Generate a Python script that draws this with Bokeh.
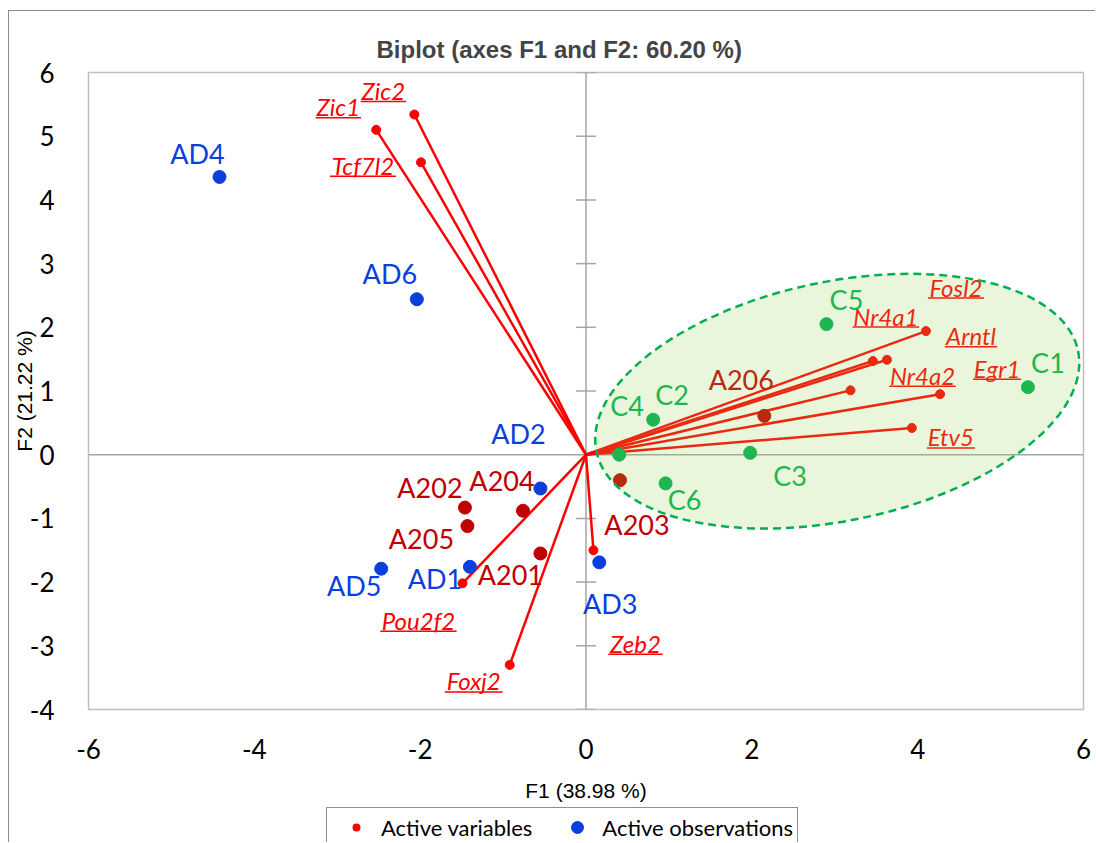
from bokeh.plotting import figure
from bokeh.layouts import column
from bokeh.models import Range1d, FixedTicker, Span, Legend, LegendItem
from bokeh.core.properties import value
from bokeh.embed import file_html
from bokeh.resources import INLINE

# ---------------- data ----------------
var_names = ["Zic2", "Zic1", "Tcf7l2", "Fosl2", "Nr4a1", "Arntl",
             "Nr4a2", "Egr1", "Etv5", "Pou2f2", "Foxj2", "Zeb2"]
var_f1 = [-2.07, -2.53, -1.99, 4.10, 3.46, 3.63, 3.19, 4.27, 3.93, -1.49, -0.92, 0.09]
var_f2 = [5.34, 5.10, 4.59, 1.94, 1.47, 1.49, 1.01, 0.95, 0.42, -2.02, -3.30, -1.50]

ad_names = ["AD1", "AD2", "AD3", "AD4", "AD5", "AD6"]
ad_f1 = [-1.40, -0.55, 0.16, -4.42, -2.47, -2.04]
ad_f2 = [-1.76, -0.53, -1.69, 4.36, -1.79, 2.44]

a_names = ["A201", "A202", "A203", "A204", "A205", "A206"]
a_f1 = [-0.55, -1.46, 0.41, -0.76, -1.43, 2.15]
a_f2 = [-1.55, -0.83, -0.40, -0.88, -1.12, 0.61]

c_names = ["C1", "C2", "C3", "C4", "C5", "C6"]
c_f1 = [5.33, 0.81, 1.98, 0.40, 2.90, 0.96]
c_f2 = [1.06, 0.55, 0.03, 0.00, 2.05, -0.45]

x_ticks = [-6, -4, -2, 0, 2, 4, 6]
x_tick_labels = ["-6", "-4", "-2", "0", "2", "4", "6"]
y_ticks = [-4, -3, -2, -1, 0, 1, 2, 3, 4, 5, 6]
y_tick_labels = ["-4", "-3", "-2", "-1", "0", "1", "2", "3", "4", "5", "6"]

# ---------------- label placement (screen px offsets, y down) ----------------
var_off = [(-31, -24), (-38, -23), (-58, 3), (30, -44), (13, -45), (84, -24),
           (72, -15), (57, -26), (39, 9), (-44, 37), (-36, 16), (42, 93)]
ad_off = [(-35, 12), (-22, -55), (11, 41), (-22, -23), (-27, 17), (-27, -26)]
a_off = [(-30, 21), (-35, -20), (17, 44), (-21, -30), (-46, 12), (-23, -36)]
c_off = [(20, -25), (19, -25), (40, 23), (8, -49), (20, -25), (19, 16)]

# ---------------- layout ----------------
W, H = 1095, 804
BL, BR, BT, BB = 88, 12, 72, 95
FW, FH = W - BL - BR, H - BT - BB
XMIN, XMAX, YMIN, YMAX = -6, 6, -4, 6
SX = FW / (XMAX - XMIN)
SY = FH / (YMAX - YMIN)

RED = "#ff0000"
BLUE = "#0a3fdc"
DRED = "#c00000"
GREEN = "#00b050"

p = figure(width=W, height=H, x_range=Range1d(XMIN, XMAX), y_range=Range1d(YMIN, YMAX),
           output_backend="svg", toolbar_location=None,
           min_border_left=BL, min_border_right=BR, min_border_top=BT, min_border_bottom=BB)
p.grid.visible = False
p.outline_line_color = "#bfbfbf"
p.outline_line_width = 1.5
p.background_fill_color = "white"
p.border_fill_alpha = 0

p.title.text = "Biplot (axes F1 and F2: 60.20 %)"
p.title.text_font = "Liberation Sans"
p.title.text_font_style = "bold"
p.title.text_font_size = "24px"
p.title.align = "left"
p.title.offset = 288
p.title.standoff = 19

for ax in (p.xaxis[0], p.yaxis[0]):
    ax.axis_line_color = None
    ax.major_tick_line_color = None
    ax.minor_tick_line_color = None
    ax.major_label_text_font = "Lato"
    ax.major_label_text_font_size = "26px"
    ax.major_label_text_color = "black"
    ax.axis_label_text_font = "Liberation Sans"
    ax.axis_label_text_font_size = "21px"
    ax.axis_label_text_font_style = "normal"
    ax.axis_label_text_color = "black"

p.xaxis.ticker = FixedTicker(ticks=x_ticks)
p.xaxis.major_label_overrides = dict(zip(x_ticks, x_tick_labels))
p.xaxis.major_label_standoff = 23
p.xaxis.axis_label = "F1 (38.98 %)"
p.xaxis.axis_label_standoff = 17

p.yaxis.ticker = FixedTicker(ticks=y_ticks)
p.yaxis.major_label_overrides = dict(zip(y_ticks, y_tick_labels))
p.yaxis.major_label_standoff = 28
p.yaxis.axis_label = "F2 (21.22 %)"
p.yaxis.axis_label_standoff = -9

# zero axes
for dim in ("width", "height"):
    s = Span(location=0, dimension=dim, line_color="#a6a6a6", line_width=1.5, level="underlay")
    p.add_layout(s)
tick_y = [t for t in y_ticks if t != 0]
p.scatter(x=[0] * len(tick_y), y=tick_y, marker="dash", size=20,
          line_color="#a6a6a6", line_width=1.5)

# variable vectors
p.segment(x0=[0] * len(var_f1), y0=[0] * len(var_f2), x1=var_f1, y1=var_f2,
          line_color=RED, line_width=2.5)
p.scatter(var_f1, var_f2, size=9, color=RED)


def place(xs, ys, offs):
    lx = [x + dx / SX for x, (dx, dy) in zip(xs, offs)]
    ly = [y - dy / SY for y, (dx, dy) in zip(ys, offs)]
    return lx, ly


# observations
p.scatter(ad_f1, ad_f2, size=13, color=BLUE)
p.scatter(a_f1, a_f2, size=13, color=DRED)
p.scatter(c_f1, c_f2, size=13, color=GREEN)

for names, xs, ys, offs, col in ((ad_names, ad_f1, ad_f2, ad_off, BLUE),
                                 (a_names, a_f1, a_f2, a_off, DRED),
                                 (c_names, c_f1, c_f2, c_off, GREEN)):
    lx, ly = place(xs, ys, offs)
    p.text(x=lx, y=ly, text=names, text_font=value("Lato"), text_font_size="27px",
           text_color=col, text_align="center", text_baseline="middle")

# variable labels (italic, underlined)
CHAR_W = {'A': 0.68, 'D': 0.75, 'E': 0.57, 'F': 0.55, 'N': 0.76, 'P': 0.60, 'T': 0.58,
          'Z': 0.62, 'a': 0.50, 'b': 0.55, 'c': 0.45, 'd': 0.55, 'e': 0.51, 'f': 0.32,
          'g': 0.49, 'i': 0.24, 'j': 0.24, 'l': 0.24, 'n': 0.55, 'o': 0.55, 'r': 0.36,
          's': 0.42, 't': 0.35, 'u': 0.55, 'v': 0.50, 'x': 0.49}
VAR_FS = 24
vlx, vly = place(var_f1, var_f2, var_off)
p.text(x=vlx, y=vly, text=var_names, text_font=value("Lato"), text_font_size=f"{VAR_FS}px",
       text_font_style="italic", text_color=RED, text_align="center", text_baseline="middle")
ux0, ux1, uy = [], [], []
for name, x, y in zip(var_names, vlx, vly):
    w = sum(CHAR_W.get(ch, 0.58) for ch in name) * VAR_FS
    ux0.append(x - w / 2 / SX)
    ux1.append(x + w / 2 / SX)
    uy.append(y - 11 / SY)
p.segment(x0=ux0, y0=uy, x1=ux1, y1=uy, line_color=RED, line_width=1.5)

# ellipse around the C group (screen units)
ELL_X, ELL_Y, ELL_W, ELL_H, ELL_ANGLE = 3.03, 0.84, 492, 239, 0.206
p.ellipse(x=[ELL_X], y=[ELL_Y], width=[ELL_W], height=[ELL_H], angle=ELL_ANGLE,
          width_units="screen", height_units="screen",
          fill_color="#92d050", fill_alpha=0.2,
          line_color=GREEN, line_width=2.5, line_dash="8 5")

# ---------------- legend strip (frame aligned with the plot above) ----------------
LH = 38
p2 = figure(width=W, height=LH, x_range=Range1d(0, 1), y_range=Range1d(0, 1),
            x_axis_type=None, y_axis_type=None,
            output_backend="svg", toolbar_location=None,
            min_border_left=BL, min_border_right=BR, min_border_top=0, min_border_bottom=0)
p2.grid.visible = False
p2.outline_line_color = None
p2.background_fill_alpha = 0
p2.border_fill_alpha = 0
# hidden renderers (placed outside the visible range) that only supply legend glyphs
lv = p2.scatter(x=[-5], y=[-5], size=12, fill_color=RED, line_color="white", line_width=4)
lo = p2.scatter(x=[-5], y=[-5], size=12, color=BLUE)
legend = Legend(items=[LegendItem(label="Active variables", renderers=[lv]),
                       LegendItem(label="Active observations", renderers=[lo])],
                orientation="horizontal", location=(238, -5), margin=0,
                padding=4, spacing=20, glyph_width=50, glyph_height=30, label_standoff=0,
                label_text_font="Lato", label_text_font_size="22px", label_text_color="black",
                border_line_color="#202020", border_line_width=1.2,
                background_fill_color="white", background_fill_alpha=1)
p2.add_layout(legend)

# chart-area border (top and left edges visible in the reference)
BORDER_CSS = ("linear-gradient(#8c8c8c, #8c8c8c) 8px 10px / 1px 100% no-repeat, "
              "linear-gradient(#8c8c8c, #8c8c8c) 8px 10px / 100% 1px no-repeat, white")
layout = column(p, p2, spacing=0, styles={"background": BORDER_CSS})
open("out.html", "w").write(file_html(layout, INLINE))
